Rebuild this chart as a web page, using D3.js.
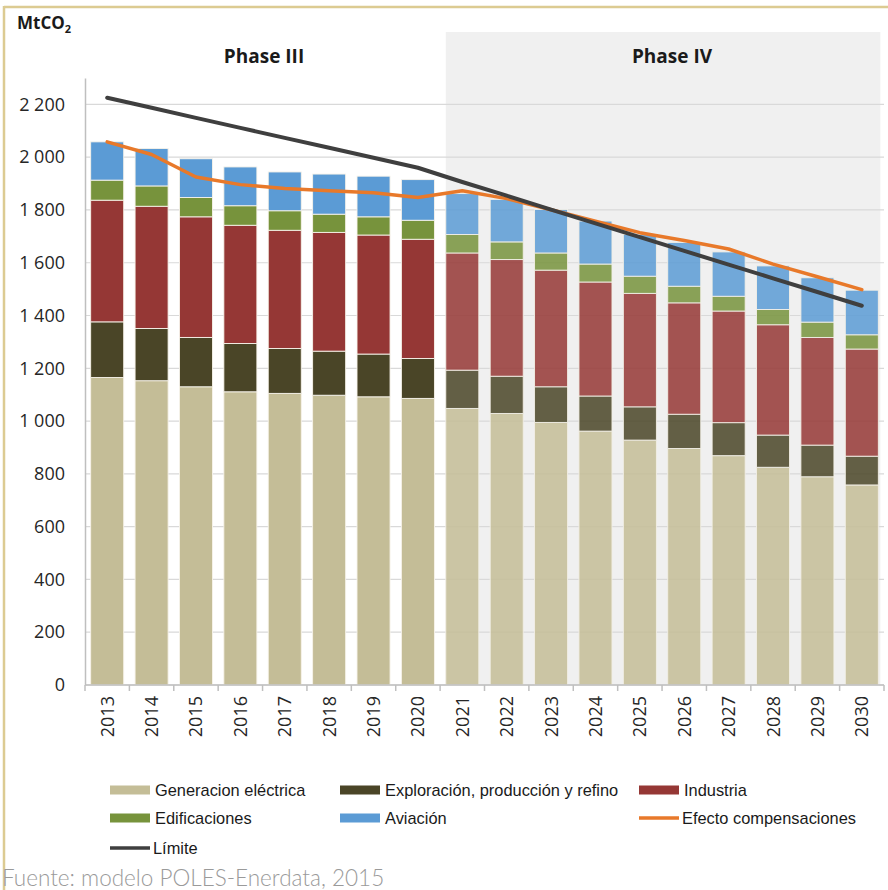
<!DOCTYPE html>
<html>
<head>
<meta charset="utf-8">
<script src="https://cdn.jsdelivr.net/npm/d3@7"></script>
<style>
  html, body { margin: 0; padding: 0; background: #fff; }
  svg { display: block; }
</style>
</head>
<body>
<svg id="chart" width="888" height="890"></svg>
<script>
// ---------- DATA ----------
const years = ["2013","2014","2015","2016","2017","2018","2019","2020","2021","2022","2023","2024","2025","2026","2027","2028","2029","2030"];
const generacion   = [1165,1153,1130,1111,1105,1098,1092,1086,1048,1029,995,962,928,896,869,825,789,758];
const exploracion  = [211,198,187,183,170,167,162,151,145,141,135,133,126,130,125,122,120,109];
const industria    = [461,463,457,448,448,450,451,452,444,442,442,432,430,422,423,418,408,406];
const edificaciones= [76,77,73,74,74,69,69,72,70,67,65,68,65,63,56,58,58,54];
const aviacion     = [145,142,147,147,147,152,154,154,155,161,165,163,158,166,168,165,168,169];
const compensaciones = [2058,2010,1925,1896,1881,1873,1865,1847,1873,1843,1801,1757,1714,1684,1652,1595,1547,1498];
const limite       = [2225,2187,2149,2111,2073,2036,1998,1960,1906,1854,1801,1749,1697,1645,1593,1541,1489,1437];
const yTicks = [0,200,400,600,800,1000,1200,1400,1600,1800,2000,2200];
const seriesNames = ["Generacion eléctrica","Exploración, producción y refino","Industria","Edificaciones","Aviación"];
const seriesColors = ["#c4bd97","#4a4527","#953735","#77933c","#5b9bd5"];
const phaseLabels = ["Phase III","Phase IV"];
const phaseIVStart = "2021";

// ---------- SETUP ----------
const svg = d3.select("#chart");
const fmt = d3.formatLocale({decimal: ",", thousands: " ", grouping: [3], currency: ["", ""]}).format(",d");

const x = d3.scaleBand().domain(years).range([85, 884]).paddingInner(0.256).paddingOuter(0.128);
const y = d3.scaleLinear().domain([0, 2300]).range([685, 78]);

const table = years.map((yr, i) => ({
  year: yr,
  s0: generacion[i], s1: exploracion[i], s2: industria[i], s3: edificaciones[i], s4: aviacion[i]
}));
const keys = ["s0","s1","s2","s3","s4"];
const stacked = d3.stack().keys(keys)(table);

// frame
svg.append("rect").attr("x",0).attr("y",0).attr("width",888).attr("height",890).attr("fill","#fff");
svg.append("line").attr("x1",4).attr("x2",888).attr("y1",7).attr("y2",7).attr("stroke","#dccb92").attr("stroke-width",2.5);
svg.append("line").attr("x1",4).attr("x2",4).attr("y1",6).attr("y2",890).attr("stroke","#dccb92").attr("stroke-width",2.5);

// Phase IV background
const p4x0 = x(phaseIVStart);
const p4x1 = x(years[years.length-1]) + x.bandwidth() + 2;
svg.append("rect").attr("x", p4x0).attr("y", 32).attr("width", p4x1 - p4x0).attr("height", y(0) - 32)
  .attr("fill", "#f0f0f0");

// gridlines
svg.append("g").selectAll("line").data(yTicks).join("line")
  .attr("x1", 85).attr("x2", 884)
  .attr("y1", d => y(d)).attr("y2", d => y(d))
  .attr("stroke", "#d9d9d9").attr("stroke-width", 1.2);

// y axis
const yAxis = d3.axisLeft(y).tickValues(yTicks).tickFormat(d => fmt(d)).tickSize(0).tickPadding(20);
const gy = svg.append("g").attr("transform", "translate(85,0)").call(yAxis);
gy.select(".domain").attr("stroke", "#bfbfbf").attr("stroke-width", 1.5);
gy.selectAll("text").attr("font-family", "'Open Sans', sans-serif").attr("font-size", 18).attr("fill", "#262626");

// bars
const phase4 = new Set(years.slice(years.indexOf(phaseIVStart)));
svg.append("g").selectAll("g").data(stacked).join("g")
  .attr("fill", (d, i) => seriesColors[i])
  .selectAll("rect").data(d => d).join("rect")
  .attr("x", d => x(d.data.year))
  .attr("width", x.bandwidth())
  .attr("y", d => y(d[1]))
  .attr("height", d => y(d[0]) - y(d[1]))
  .attr("fill-opacity", d => phase4.has(d.data.year) ? 0.85 : 1)
  .attr("stroke", d => phase4.has(d.data.year) ? "#f2efe6" : "#f7f3ea")
  .attr("stroke-width", 0.9);

// x axis
const xAxis = d3.axisBottom(x).tickSize(0).tickPadding(0);
const gx = svg.append("g").attr("transform", `translate(0,${y(0)})`).call(xAxis);
gx.select(".domain").attr("stroke", "#bfbfbf").attr("stroke-width", 1.5).attr("d", "M85,0H884");
// boundary ticks
const bounds = years.map(yr => x(yr) - x.step() * x.paddingInner() / 2).concat([884]);
svg.append("g").selectAll("line").data(bounds).join("line")
  .attr("x1", d => d).attr("x2", d => d).attr("y1", y(0)).attr("y2", y(0) + 6)
  .attr("stroke", "#bfbfbf").attr("stroke-width", 1.5);
gx.selectAll(".tick text")
  .attr("font-family", "'Open Sans', sans-serif").attr("font-size", 18).attr("fill", "#262626")
  .attr("transform", "translate(0,11) rotate(-90)")
  .attr("text-anchor", "end").attr("dy", "0.36em").attr("y", 0).attr("x", 0);

// lines
const lineGen = d3.line().x((d, i) => x(years[i]) + x.bandwidth() / 2).y(d => y(d)).curve(d3.curveLinear);
svg.append("path").datum(compensaciones).attr("d", lineGen)
  .attr("fill", "none").attr("stroke", "#e8792a").attr("stroke-width", 3.5).attr("stroke-linejoin", "round").attr("stroke-linecap", "round");
svg.append("path").datum(limite).attr("d", lineGen)
  .attr("fill", "none").attr("stroke", "#3f3f3f").attr("stroke-width", 4).attr("stroke-linejoin", "round").attr("stroke-linecap", "round");

// Titles
const mt = svg.append("text").attr("x", 17).attr("y", 29)
  .attr("font-family", "'Open Sans', sans-serif").attr("font-weight", "bold").attr("font-size", 17).attr("fill", "#1a1a1a");
mt.append("tspan").text("MtCO");
mt.append("tspan").attr("font-size", 11).attr("dy", 4).text("2");

svg.append("text").attr("x", 264).attr("y", 63).attr("text-anchor", "middle")
  .attr("font-family", "'Open Sans', sans-serif").attr("font-weight", "bold").attr("font-size", 19).attr("fill", "#1a1a1a")
  .text(phaseLabels[0]);
svg.append("text").attr("x", 672).attr("y", 63).attr("text-anchor", "middle")
  .attr("font-family", "'Open Sans', sans-serif").attr("font-weight", "bold").attr("font-size", 19).attr("fill", "#1a1a1a")
  .text(phaseLabels[1]);

// Legend
const legendItems = [
  {name: seriesNames[0], type: "rect", color: seriesColors[0], lx: 110, ly: 790},
  {name: seriesNames[1], type: "rect", color: seriesColors[1], lx: 340, ly: 790},
  {name: seriesNames[2], type: "rect", color: seriesColors[2], lx: 639, ly: 790},
  {name: seriesNames[3], type: "rect", color: seriesColors[3], lx: 110, ly: 818},
  {name: seriesNames[4], type: "rect", color: seriesColors[4], lx: 340, ly: 818},
  {name: "Efecto compensaciones", type: "line", color: "#e8792a", lx: 639, ly: 818},
  {name: "Límite", type: "line", color: "#3f3f3f", lx: 110, ly: 848}
];
const lg = svg.append("g").selectAll("g").data(legendItems).join("g")
  .attr("transform", d => `translate(${d.lx},${d.ly})`);
lg.filter(d => d.type === "rect").append("rect")
  .attr("x", 0).attr("y", -4.5).attr("width", 40).attr("height", 9).attr("fill", d => d.color);
lg.filter(d => d.type === "line").append("line")
  .attr("x1", 0).attr("x2", 40).attr("y1", 0).attr("y2", 0).attr("stroke", d => d.color).attr("stroke-width", 3.5);
lg.append("text").attr("x", d => d.type === "rect" ? 45 : 43).attr("y", 0).attr("dy", "0.35em")
  .attr("font-family", "'Liberation Sans', Arial, sans-serif").attr("font-size", 16.4).attr("fill", "#1a1a1a")
  .text(d => d.name);

// Footer
svg.append("text").attr("x", 2).attr("y", 886)
  .attr("font-family", "Lato, sans-serif").attr("font-weight", 300).attr("font-size", 22.5).attr("fill", "#9a9a9a")
  .text("Fuente: modelo POLES-Enerdata, 2015");
</script>
</body>
</html>
